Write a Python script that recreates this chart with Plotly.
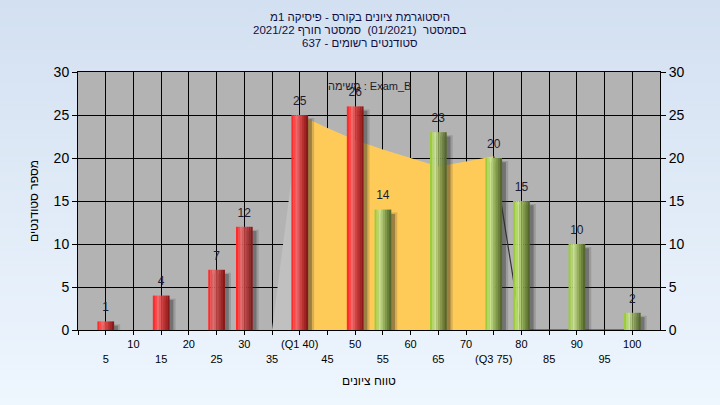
import plotly.graph_objects as go

# ---- data ----
grade_bins = [5, 15, 25, 30, 40, 50, 55, 65, 75, 80, 90, 100]
students = [1, 4, 7, 12, 25, 26, 14, 23, 20, 15, 10, 2]

# smoothed distribution area
low_x = [35, 40]
low_y = [0, 25]
iqr_x = [40, 45, 50, 55, 60, 65, 70, 75]
iqr_y = [25, 23.5, 22.1, 21.0, 20.0, 19.0, 19.6, 20.2]
high_x = [75, 80, 100]
high_y = [20.2, 0.0, 0.0]

tick_vals = list(range(0, 105, 5))
tick_labels = ["", "5", "10", "15", "20", "25", "30", "35", "(Q1 40)", "45", "50",
               "55", "60", "65", "70", "(Q3 75)", "80", "85", "90", "95", "100"]

title_lines = ["היסטוגרמת ציונים בקורס - פיסיקה 1מ",
               "בסמסטר  (01/2021)  סמסטר חורף 2021/22",
               "סטודנטים רשומים - 637"]
task_label = "משימה : Exam_B"
x_title = "טווח ציונים"
y_title = "מספר סטודנטים"

# ---- styling ----
red_strips = ['#ff2b2b', '#f84848', '#ee6a6a', '#e05858', '#cc4242', '#b83232', '#a32424', '#8a1a1a']
green_strips = ['#9ccc3c', '#b4d868', '#c8e292', '#b0ca78', '#97b05d', '#80984a', '#6a813b', '#56692c']
FONT = "Liberation Sans, Arial, sans-serif"
W, H = 720, 405
ML, MR, MT, MB = 78, 60, 72, 75
plot_h = H - MT - MB

ticktext = [t if (v % 10 == 0) else "<br>" + t for v, t in zip(tick_vals, tick_labels)]

fig = go.Figure()

# distribution area on the main (lower) subplot
fig.add_trace(go.Scatter(x=low_x, y=low_y, mode="lines", line=dict(width=0),
                         fill="tozeroy", fillcolor="#c0c0c0", hoverinfo="skip"))
fig.add_trace(go.Scatter(x=iqr_x, y=iqr_y, mode="lines", line=dict(width=0),
                         fill="tozeroy", fillcolor="#ffcb58", hoverinfo="skip"))
fig.add_trace(go.Scatter(x=high_x, y=high_y, mode="lines", cliponaxis=False,
                         line=dict(width=1.2, color="#333333"), hoverinfo="skip"))

# bars on the overlaying subplot (drawn above the area)
bar_w = 3.0
fig.add_trace(go.Bar(x=grade_bins, y=[v - 0.35 for v in students], width=bar_w + 0.6, yaxis="y2",
                     offset=-bar_w / 2 + 0.5, marker=dict(color="rgba(50,50,50,0.18)", line=dict(width=0)),
                     hoverinfo="skip"))
fig.add_trace(go.Bar(x=grade_bins, y=[v - 0.5 for v in students], width=bar_w, yaxis="y2",
                     offset=-bar_w / 2 + 0.7, marker=dict(color="rgba(40,40,40,0.35)", line=dict(width=0)),
                     hoverinfo="skip"))

ns = len(red_strips)
sw = bar_w / ns
for i in range(ns):
    cols = [red_strips[i] if g <= 50 else green_strips[i] for g in grade_bins]
    fig.add_trace(go.Bar(x=grade_bins, y=students, width=sw + 0.02, offset=-bar_w / 2 + i * sw,
                         yaxis="y2", marker=dict(color=cols, line=dict(width=0)), hoverinfo="skip"))

# value labels
fig.add_trace(go.Scatter(x=grade_bins, y=students, yaxis="y2", mode="markers+text",
                         marker=dict(size=10, opacity=0), text=[str(v) for v in students],
                         textposition="top center", textfont=dict(size=12, color="#1c1c30", family=FONT),
                         hoverinfo="skip"))

annotations = []
for k, line in enumerate(title_lines):
    py = 17 + 13 * k
    annotations.append(dict(text=line, xref="paper", yref="paper",
                            x=(W / 2 - ML) / (W - ML - MR), y=(H - MB - py) / plot_h,
                            xanchor="center", yanchor="middle", showarrow=False,
                            font=dict(size=11.5, color="#101040", family=FONT)))
annotations.append(dict(text=task_label, xref="paper", yref="paper", x=0.5, y=(H - MB - 86) / plot_h,
                        xanchor="center", yanchor="middle", showarrow=False,
                        font=dict(size=11, color="#1c1c30", family=FONT)))

fig.update_layout(
    width=W, height=H,
    barmode="overlay",
    showlegend=False,
    paper_bgcolor="rgba(0,0,0,0)",
    plot_bgcolor="#b3b3b3",
    margin=dict(l=ML, r=MR, t=MT, b=MB),
    font=dict(family=FONT, color="#000000"),
    xaxis=dict(range=[0, 105], tickmode="array", tickvals=tick_vals, ticktext=ticktext,
               ticks="outside", ticklen=4, tickcolor="#000", showgrid=True, gridcolor="#000",
               gridwidth=1, showline=True, linecolor="#000", linewidth=1, mirror=True,
               zeroline=False, tickfont=dict(size=11, color="#000"),
               title=dict(text=x_title, font=dict(size=12, color="#000"), standoff=13)),
    yaxis=dict(range=[0, 30], tickmode="linear", tick0=0, dtick=5, ticks="outside", ticklen=5,
               tickcolor="#000", showgrid=True, gridcolor="#000", gridwidth=1, showline=True,
               linecolor="#000", linewidth=1, mirror=True, zeroline=False,
               tickfont=dict(size=14, color="#000"),
               title=dict(text=y_title, font=dict(size=12, color="#000"), standoff=12)),
    yaxis2=dict(range=[0, 30], overlaying="y", side="right", tickmode="linear", tick0=0, dtick=5,
                ticks="outside", ticklen=5, tickcolor="#000", showgrid=False, zeroline=False,
                tickfont=dict(size=14, color="#000")),
    annotations=annotations,
)

page_js = ("document.body.style.margin='0';document.body.style.overflow='hidden';"
           "document.documentElement.style.height='100%';"
           "document.documentElement.style.background='linear-gradient(#d3e0f1, #eef6fe)';")
fig.write_html("out.html", post_script=page_js, config={"displayModeBar": False})
